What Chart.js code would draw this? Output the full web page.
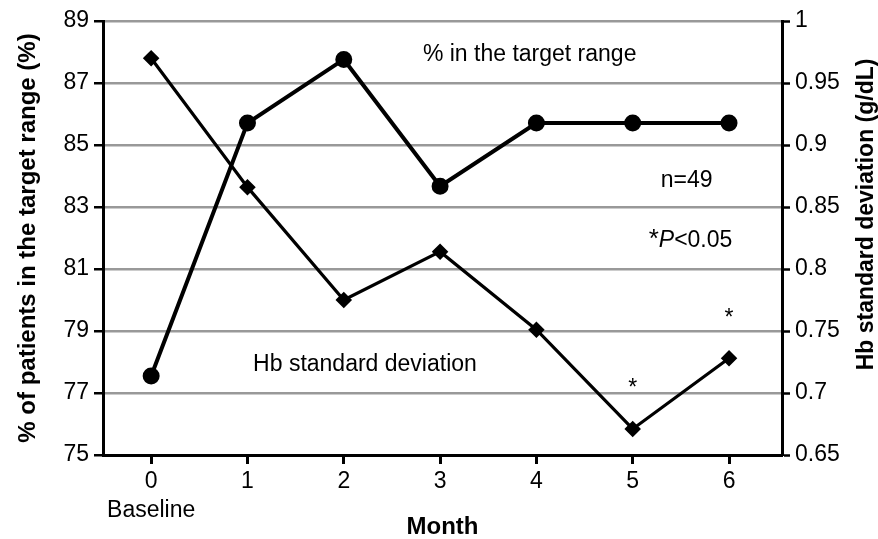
<!DOCTYPE html>
<html>
<head>
<meta charset="utf-8">
<script src="https://cdn.jsdelivr.net/npm/chart.js@4"></script>
<style>
  html, body { margin: 0; padding: 0; background: #fff; }
  canvas { display: block; }
</style>
</head>
<body>
<canvas id="hbChart" width="878" height="539"></canvas>
<script>
const months = [0, 1, 2, 3, 4, 5, 6];
const pctInRange = [77.55, 85.71, 87.76, 83.67, 85.71, 85.71, 85.71];
const hbSD = [0.97, 0.866, 0.775, 0.814, 0.751, 0.671, 0.728];
const leftTicks = [75, 77, 79, 81, 83, 85, 87, 89];
const rightTicks = [0.65, 0.7, 0.75, 0.8, 0.85, 0.9, 0.95, 1];
const significantMonths = [5, 6];

Chart.defaults.font.family = '"Liberation Sans", Arial, sans-serif';
Chart.defaults.color = '#000';

const FONT = '"Liberation Sans", Arial, sans-serif';

// free text on the plot: series names, n, p-value note, asterisks, right axis title
const notes = {
  id: 'notes',
  afterDatasetsDraw(chart) {
    const { ctx, scales: { x, y, y2 } } = chart;
    ctx.save();
    ctx.fillStyle = '#000';
    ctx.textAlign = 'center';
    ctx.textBaseline = 'middle';
    ctx.font = '23px ' + FONT;
    ctx.fillText('% in the target range', x.getPixelForValue(3.93), y.getPixelForValue(87.9));
    ctx.fillText('n=49', x.getPixelForValue(5.56), y.getPixelForValue(83.85));
    ctx.fillText('Hb standard deviation', x.getPixelForValue(2.22), y.getPixelForValue(77.9));

    // *P<0.05 with italic P
    const plain = '23px ' + FONT;
    const ital = 'italic 23px ' + FONT;
    ctx.font = '26px ' + FONT;
    const wStar = ctx.measureText('*').width;
    ctx.font = plain;
    const wRest = ctx.measureText('<0.05').width;
    ctx.font = ital;
    const wP = ctx.measureText('P').width;
    let px = x.getPixelForValue(5.6) - (wStar + wP + wRest) / 2;
    const py = y.getPixelForValue(81.9);
    ctx.textAlign = 'left';
    ctx.font = '26px ' + FONT;
    ctx.fillText('*', px, py - 1);
    px += wStar;
    ctx.font = ital;
    ctx.fillText('P', px, py);
    px += wP;
    ctx.font = plain;
    ctx.fillText('<0.05', px, py);

    ctx.textAlign = 'center';
    ctx.font = '23px ' + FONT;
    significantMonths.forEach(m => {
      const i = months.indexOf(m);
      ctx.fillText('*', x.getPixelForValue(m), y2.getPixelForValue(hbSD[i]) - 40);
    });

    // right axis title reads bottom-to-top like the left one
    ctx.translate(y2.right - 11, y2.getPixelForValue(0.844));
    ctx.rotate(-Math.PI / 2);
    ctx.font = 'bold 23px ' + FONT;
    ctx.fillText('Hb standard deviation (g/dL)', 0, 0);
    ctx.restore();
  }
};

new Chart(document.getElementById('hbChart'), {
  type: 'line',
  data: {
    datasets: [
      {
        label: 'Hb standard deviation',
        data: months.map((m, i) => ({ x: m, y: hbSD[i] })),
        yAxisID: 'y2',
        borderColor: '#000',
        backgroundColor: '#000',
        borderWidth: 3.2,
        pointStyle: 'rectRot',
        pointRadius: 6,
        tension: 0,
        order: 2
      },
      {
        label: '% in the target range',
        data: months.map((m, i) => ({ x: m, y: pctInRange[i] })),
        yAxisID: 'y',
        borderColor: '#000',
        backgroundColor: '#000',
        borderWidth: 4,
        pointStyle: 'circle',
        pointRadius: 6.5,
        tension: 0,
        order: 1
      }
    ]
  },
  options: {
    responsive: false,
    animation: false,
    layout: { padding: { top: 21, right: 0, bottom: 0, left: 0 } },
    plugins: {
      legend: { display: false },
      tooltip: { enabled: false }
    },
    scales: {
      x: {
        type: 'linear',
        min: -0.5,
        max: 6.55,
        afterBuildTicks: s => { s.ticks = months.map(v => ({ value: v })); },
        afterFit: s => { s.height = 84; },
        grid: { drawOnChartArea: false, tickLength: 9, tickColor: '#000', tickWidth: 3 },
        border: { color: '#000', width: 3 },
        ticks: {
          font: { size: 23, lineHeight: 1.26 },
          padding: 3,
          maxRotation: 0,
          callback: v => v === 0 ? ['0', 'Baseline'] : String(v)
        },
        title: {
          display: true,
          text: 'Month',
          font: { size: 24, weight: 'bold', lineHeight: 1 },
          padding: { top: 0, bottom: 0 }
        }
      },
      y: {
        position: 'left',
        min: 75,
        max: 89,
        afterBuildTicks: s => { s.ticks = leftTicks.map(v => ({ value: v })); },
        afterFit: s => { s.width = 103; },
        grid: { color: '#999', lineWidth: 2.5, tickColor: '#000', tickWidth: 2.5, tickLength: 9 },
        border: { color: '#000', width: 3 },
        ticks: { font: { size: 23 }, padding: 5 },
        title: {
          display: true,
          text: '% of patients in the target range (%)',
          font: { size: 24, weight: 'bold', lineHeight: 1 },
          padding: { top: 16, bottom: 0 }
        }
      },
      y2: {
        position: 'right',
        min: 0.65,
        max: 1,
        afterBuildTicks: s => { s.ticks = rightTicks.map(v => ({ value: v })); },
        afterFit: s => { s.width = 96; },
        grid: { drawOnChartArea: false, tickColor: '#000', tickWidth: 2.5, tickLength: 8 },
        border: { color: '#000', width: 3 },
        ticks: { font: { size: 23 }, padding: 5, callback: v => String(+v.toFixed(2)) },
        title: { display: false }
      }
    }
  },
  plugins: [notes]
});
</script>
</body>
</html>
